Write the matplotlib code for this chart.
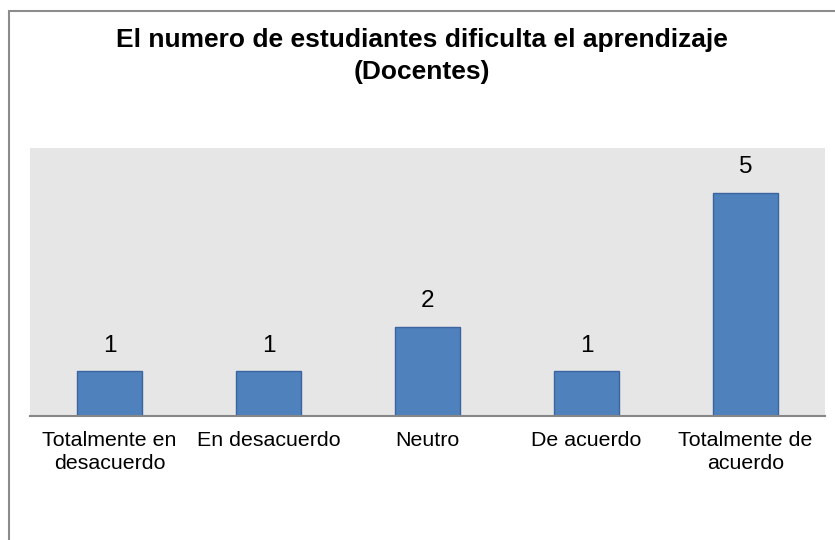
import matplotlib.pyplot as plt
from matplotlib.patches import Rectangle

plt.rcParams['font.family'] = ['Liberation Sans', 'DejaVu Sans']

categories = ["Totalmente en\ndesacuerdo", "En desacuerdo", "Neutro", "De acuerdo", "Totalmente de\nacuerdo"]
values = [1, 1, 2, 1, 5]
title = "El numero de estudiantes dificulta el aprendizaje\n(Docentes)"

W, H = 835, 540
fig = plt.figure(figsize=(W / 100, H / 100), dpi=100)

# outer chart border (runs off the right and bottom edges)
fig.patches.append(Rectangle((9 / W, -0.1), 1.2, 1 - 11 / H + 0.1, transform=fig.transFigure,
                             fill=False, edgecolor='#8c8c8c', linewidth=1.5))

ax = fig.add_axes([30 / W, (H - 416) / H, (825 - 30) / W, (416 - 148) / H])
ax.set_facecolor('#e6e6e6')

x = range(len(categories))
bars = ax.bar(x, values, width=0.41, color='#4f81bd', edgecolor='#3b64a0', linewidth=1)

for b, v in zip(bars, values):
    ax.text(b.get_x() + b.get_width() / 2, v + 0.32, str(v), ha='center', va='bottom', fontsize=17.5)

ax.set_xlim(-0.5, len(categories) - 0.5)
ax.set_ylim(0, 6)
ax.set_yticks([])
ax.set_xticks(list(x))
ax.set_xticklabels(categories, fontsize=15.4, linespacing=1.25)
ax.tick_params(axis='x', length=0, pad=11)
for s in ['top', 'right', 'left']:
    ax.spines[s].set_visible(False)
ax.spines['bottom'].set_color('#868686')
ax.spines['bottom'].set_linewidth(1.5)

fig.text(0.505, 1 - 28 / H, title, ha='center', va='top', fontsize=19, fontweight='bold', linespacing=1.42)

fig.savefig('out.png', dpi=100)
